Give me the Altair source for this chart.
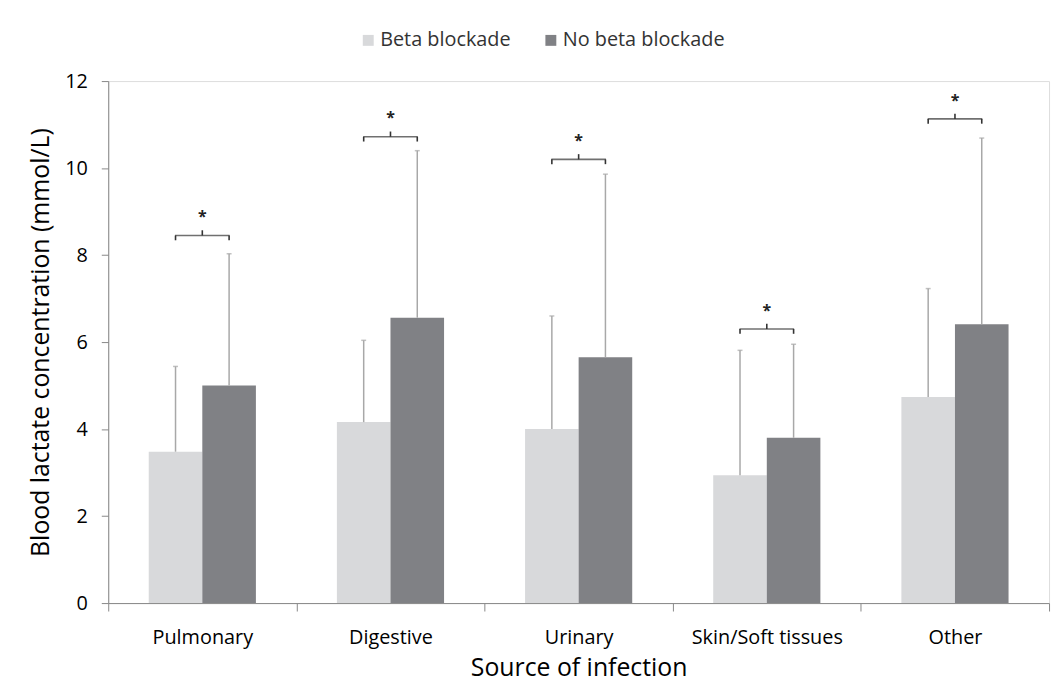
import altair as alt
import pandas as pd

categories = ["Pulmonary", "Digestive", "Urinary", "Skin/Soft tissues", "Other"]
groups = ["Beta blockade", "No beta blockade"]
beta_mean = [3.48, 4.16, 4.00, 2.94, 4.74]
beta_upper = [5.44, 6.04, 6.60, 5.81, 7.23]
nobeta_mean = [5.00, 6.56, 5.65, 3.80, 6.41]
nobeta_upper = [8.03, 10.40, 9.86, 5.95, 10.69]
bracket_y = [8.45, 10.72, 10.20, 6.30, 11.13]
y_ticks = [0, 2, 4, 6, 8, 10, 12]

rows = []
for i, c in enumerate(categories):
    rows.append({"category": c, "group": groups[0], "mean": beta_mean[i],
                 "upper": beta_upper[i], "bracket": bracket_y[i],
                 "hook": bracket_y[i] - 0.11})
    rows.append({"category": c, "group": groups[1], "mean": nobeta_mean[i],
                 "upper": nobeta_upper[i], "bracket": bracket_y[i],
                 "hook": bracket_y[i] - 0.11})
df = pd.DataFrame(rows)

br = pd.DataFrame({"category": categories, "bracket": bracket_y,
                   "mid": [b + 0.12 for b in bracket_y],
                   "star": [b + 0.42 for b in bracket_y],
                   "label": ["*"] * len(categories)})

FONT = "Open Sans"
TXT = "#3a3a3a"
AX = "#c6c6c6"

x_enc = alt.X("category:N", sort=categories, title="Source of infection",
              scale=alt.Scale(paddingInner=0, paddingOuter=0),
              axis=alt.Axis(tickBand="extent", labelAngle=0, labelFontSize=20,
                            labelFont=FONT, titleFont=FONT,
                            labelPadding=17, titleFontSize=25, titlePadding=8,
                            tickSize=8, titleFontWeight="normal"))
xo = alt.XOffset("group:N", sort=groups,
                 scale=alt.Scale(paddingOuter=0.756, paddingInner=0))
y_scale = alt.Scale(domain=[0, 12], nice=False)

bars = alt.Chart(df).mark_bar(size=54).encode(
    x=x_enc,
    xOffset=xo,
    y=alt.Y("mean:Q", scale=y_scale, title="Blood lactate concentration (mmol/L)",
            axis=alt.Axis(values=y_ticks, grid=False, labelFontSize=20,
                          labelFont=FONT, titleFont=FONT,
                          labelPadding=14, tickSize=7, titleFontSize=25,
                          titlePadding=11, titleFontWeight="normal")),
    color=alt.Color("group:N", sort=groups, title=None,
                    scale=alt.Scale(domain=groups, range=["#d8d9db", "#808185"]),
                    legend=alt.Legend(orient="none", direction="horizontal",
                                      legendX=252, legendY=-51,
                                      symbolType="square", symbolSize=121,
                                      symbolStrokeWidth=0, labelFontSize=20,
                                      labelOffset=2, columnPadding=30,
                                      labelLimit=400,
                                      padding=0, labelColor="#333333",
                                      labelFont=FONT)),
)

err = alt.Chart(df).mark_rule(color="#a8a8a8", strokeWidth=1.5).encode(
    x=alt.X("category:N", sort=categories), xOffset=xo,
    y=alt.Y("mean:Q", scale=y_scale), y2="upper:Q")

caps = alt.Chart(df).mark_tick(orient="horizontal", size=5, thickness=1.5,
                               color="#a8a8a8").encode(
    x=alt.X("category:N", sort=categories), xOffset=xo,
    y=alt.Y("upper:Q", scale=y_scale))

hooks = alt.Chart(df).mark_rule(color="#333333", strokeWidth=1.6).encode(
    x=alt.X("category:N", sort=categories), xOffset=xo,
    y=alt.Y("bracket:Q", scale=y_scale), y2="hook:Q")

bracket_line = alt.Chart(br).mark_tick(orient="horizontal", size=55,
                                       thickness=1.6, color="#333333").encode(
    x=alt.X("category:N", sort=categories),
    y=alt.Y("bracket:Q", scale=y_scale))

mid = alt.Chart(br).mark_rule(color="#333333", strokeWidth=1.6).encode(
    x=alt.X("category:N", sort=categories),
    y=alt.Y("bracket:Q", scale=y_scale), y2="mid:Q")

stars = alt.Chart(br).mark_text(fontSize=16, fontWeight="bold", color="#222222",
                                baseline="middle", font=FONT).encode(
    x=alt.X("category:N", sort=categories),
    y=alt.Y("star:Q", scale=y_scale), text="label:N")

chart = alt.layer(bars, err, caps, hooks, bracket_line, mid, stars).properties(
    width=948, height=526,
    autosize=alt.AutoSizeParams(type="none"),
    padding={"left": 101, "top": 71, "right": 6, "bottom": 90},
).configure_view(strokeWidth=0).configure_axis(
    labelFont=FONT, titleFont=FONT, labelColor=TXT, titleColor=TXT,
    domainColor=AX, tickColor=AX, domainWidth=1.5, tickWidth=1.2,
).configure(background="white", font=FONT)

chart.save("out.html", embed_options={"renderer": "svg", "actions": False})
